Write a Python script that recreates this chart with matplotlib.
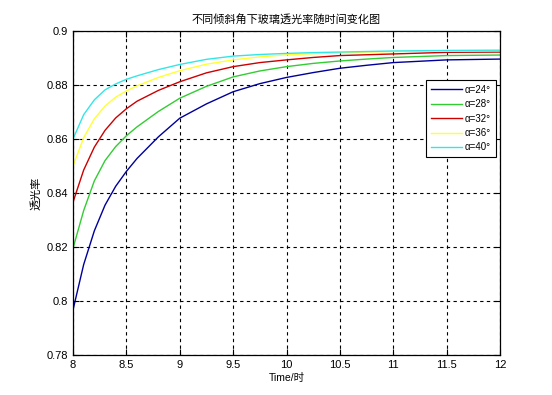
import matplotlib
matplotlib.use("Agg")
import matplotlib.pyplot as plt

plt.rcParams['font.family'] = ['Liberation Sans', 'Noto Sans CJK SC', 'DejaVu Sans']

time = [8.0, 8.1, 8.2, 8.3, 8.4, 8.5, 8.6, 8.8, 9.0, 9.25, 9.5, 9.75,
        10.0, 10.25, 10.5, 10.75, 11.0, 11.5, 12.0]

t24 = [0.7967, 0.8135, 0.8260, 0.8355, 0.8425, 0.8480, 0.8528, 0.8608, 0.8677,
       0.8730, 0.8775, 0.8805, 0.8828, 0.8846, 0.8862, 0.8873, 0.8883, 0.8893, 0.8896]
t28 = [0.8195, 0.8335, 0.8445, 0.8520, 0.8572, 0.8612, 0.8645, 0.8702, 0.8751,
       0.8795, 0.8830, 0.8852, 0.8868, 0.8880, 0.8889, 0.8896, 0.8902, 0.8909, 0.8911]
t32 = [0.8366, 0.8485, 0.8570, 0.8632, 0.8678, 0.8712, 0.8740, 0.8780, 0.8812,
       0.8845, 0.8868, 0.8883, 0.8893, 0.8902, 0.8909, 0.8912, 0.8915, 0.8921, 0.8922]
t36 = [0.8500, 0.8605, 0.8675, 0.8722, 0.8755, 0.8778, 0.8797, 0.8828, 0.8853,
       0.8877, 0.8893, 0.8904, 0.8912, 0.8916, 0.8919, 0.8922, 0.8924, 0.8926, 0.8927]
t40 = [0.8600, 0.8690, 0.8745, 0.8782, 0.8804, 0.8821, 0.8834, 0.8857, 0.8876,
       0.8895, 0.8907, 0.8913, 0.8917, 0.8920, 0.8922, 0.8924, 0.8926, 0.8928, 0.8929]

series = [t24, t28, t32, t36, t40]
labels = ['α=24°', 'α=28°', 'α=32°', 'α=36°', 'α=40°']
colors = ['#000099', '#33cc33', '#cc0000', '#ffff33', '#33e6e6']

xticks = [8, 8.5, 9, 9.5, 10, 10.5, 11, 11.5, 12]
xticklabels = ['8', '8.5', '9', '9.5', '10', '10.5', '11', '11.5', '12']
yticks = [0.78, 0.8, 0.82, 0.84, 0.86, 0.88, 0.9]
yticklabels = ['0.78', '0.8', '0.82', '0.84', '0.86', '0.88', '0.9']

fig = plt.figure(figsize=(5.52, 3.95), dpi=100)
ax = fig.add_axes([73/552, 1-355/395, (500-73)/552, (355-31)/395])

for y, lab, c in zip(series, labels, colors):
    ax.plot(time, y, color=c, lw=1.0, label=lab)

ax.set_xlim(8, 12)
ax.set_ylim(0.78, 0.9)
ax.set_xticks(xticks)
ax.set_xticklabels(xticklabels)
ax.set_yticks(yticks)
ax.set_yticklabels(yticklabels)
ax.tick_params(direction='in', top=True, right=True, labelsize=8, length=4, width=0.8)
ax.grid(True, color='black', linestyle=(0, (3, 3)), linewidth=0.8)
for s in ax.spines.values():
    s.set_linewidth(0.9)

ax.set_title('不同倾斜角下玻璃透光率随时间变化图', fontsize=8, pad=6)
ax.set_xlabel('Time/时', fontsize=7.5, labelpad=2)
ax.set_ylabel('透光率', fontsize=8, labelpad=4)

leg = ax.legend(loc='upper right', bbox_to_anchor=(0.99, 0.849), borderaxespad=0, fontsize=7,
                frameon=True, fancybox=False, edgecolor='black', framealpha=1,
                handlelength=3.2, borderpad=0.5, labelspacing=0.45, handletextpad=0.3)
leg.get_frame().set_linewidth(0.8)

fig.savefig('out.png', dpi=100)
